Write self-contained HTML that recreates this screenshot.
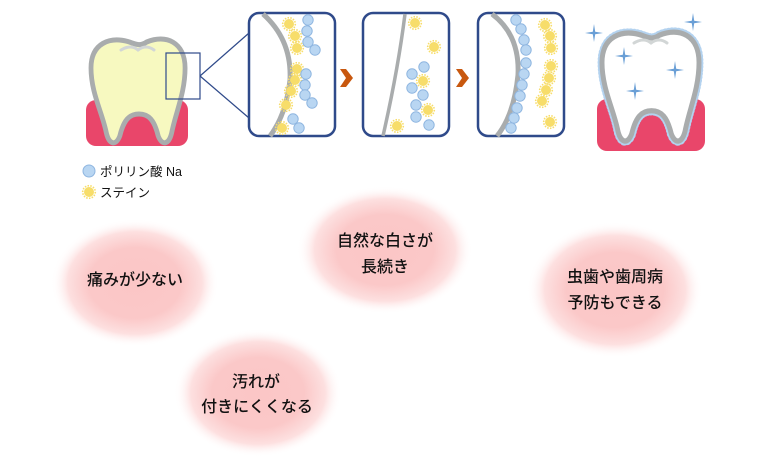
<!DOCTYPE html>
<html><head><meta charset="utf-8"><style>
html,body{margin:0;padding:0;background:#fff;}
svg{display:block}
text{font-family:"Liberation Sans","Noto Sans CJK JP",sans-serif;fill:#111;}
</style></head><body>
<svg width="782" height="469" viewBox="0 0 782 469" xmlns="http://www.w3.org/2000/svg">
<defs>
<radialGradient id="pk">
<stop offset="0" stop-color="#fbc6c6"/>
<stop offset="0.55" stop-color="#fbc8c8"/>
<stop offset="0.8" stop-color="#fde0e0"/>
<stop offset="1" stop-color="#fff" stop-opacity="0"/>
</radialGradient>
<g id="st"><circle r="5" fill="#f7dd6a"/><circle r="6.3" fill="none" stroke="#f7dd6a" stroke-width="1.6" stroke-dasharray="1.5 1.3"/></g>
<g id="bl"><circle r="5.2" fill="#b9d6f2" stroke="#8fb6e0" stroke-width="1"/></g>
<g id="sp"><path d="M0,-9 L1.2,-1.2 L9,0 L1.2,1.2 L0,9 L-1.2,1.2 L-9,0 L-1.2,-1.2 Z" fill="#6a9fd6"/></g>
<path id="tooth" d="M0,30 C0,5 20,-2 40,4 C48,7 52,8 58,4 C78,-4 98,4 98,30 C98,55 88,75 84,95 C81,107 74,108 70,98 C66,82 60,76 50,76 C40,76 34,82 30,98 C26,108 19,107 16,95 C12,75 0,55 0,30 Z"/>
</defs>

<!-- tooth 1 -->
<rect x="86" y="100" width="102" height="46" rx="10" fill="#e9466a"/>
<use href="#tooth" transform="translate(91,38) scale(0.96,1)" fill="#f7f9c0" stroke="#a9acad" stroke-width="5"/>
<path d="M121,50 Q131,44 138,50 Q146,44 154,50" fill="none" stroke="#d2d6d6" stroke-width="3" stroke-linecap="round"/>
<rect x="166" y="53" width="34" height="46" fill="none" stroke="#2f4a8a" stroke-width="1.2"/>
<line x1="200" y1="76" x2="249" y2="33" stroke="#2f4a8a" stroke-width="1.2"/>
<line x1="200" y1="76" x2="249" y2="118" stroke="#2f4a8a" stroke-width="1.2"/>

<!-- panel 1 -->
<rect x="249" y="13" width="86" height="123" rx="10" fill="#fff" stroke="#2f4a8a" stroke-width="2.5"/>
<path d="M263,14 Q292,40 290,80 Q286,115 270,136" fill="none" stroke="#a9acad" stroke-width="5"/>
<use href="#st" x="289" y="24"/><use href="#st" x="295" y="36"/><use href="#st" x="297" y="48"/>
<use href="#st" x="297" y="69"/><use href="#st" x="295" y="80"/><use href="#st" x="291" y="91"/><use href="#st" x="286" y="105"/><use href="#st" x="282" y="128"/>
<use href="#bl" x="308" y="20"/><use href="#bl" x="307" y="31"/><use href="#bl" x="308" y="42"/><use href="#bl" x="315" y="50"/>
<use href="#bl" x="306" y="74"/><use href="#bl" x="305" y="85"/><use href="#bl" x="305" y="95"/><use href="#bl" x="312" y="103"/>
<use href="#bl" x="293" y="119"/><use href="#bl" x="299" y="128"/>
<path d="M340,69 L346,69 L353,78 L346,87 L340,87 L346,78 Z" fill="#c8580f"/>
<!-- panel 2 -->
<rect x="363" y="13" width="86" height="123" rx="10" fill="#fff" stroke="#2f4a8a" stroke-width="2.5"/>
<path d="M405,14 Q398,70 383,136" fill="none" stroke="#a9acad" stroke-width="3.5"/>
<use href="#st" x="415" y="23"/><use href="#st" x="434" y="47"/>
<use href="#bl" x="424" y="67"/><use href="#bl" x="412" y="74"/><use href="#bl" x="412" y="88"/><use href="#bl" x="423" y="95"/>
<use href="#bl" x="416" y="105"/><use href="#bl" x="416" y="117"/><use href="#bl" x="429" y="125"/>
<use href="#st" x="423" y="81"/><use href="#st" x="428" y="110"/><use href="#st" x="397" y="126"/>
<path d="M456,69 L462,69 L469,78 L462,87 L456,87 L462,78 Z" fill="#c8580f"/>
<!-- panel 3 -->
<rect x="478" y="13" width="86" height="123" rx="10" fill="#fff" stroke="#2f4a8a" stroke-width="2.5"/>
<path d="M492,14 Q520,35 518,75 Q514,115 497,136" fill="none" stroke="#a9acad" stroke-width="5"/>
<use href="#bl" x="516" y="20"/><use href="#bl" x="521" y="29"/><use href="#bl" x="524" y="40"/><use href="#bl" x="526" y="50"/>
<use href="#bl" x="526" y="63"/><use href="#bl" x="524" y="74"/><use href="#bl" x="522" y="85"/><use href="#bl" x="520" y="96"/>
<use href="#bl" x="517" y="108"/><use href="#bl" x="514" y="118"/><use href="#bl" x="511" y="128"/>
<use href="#st" x="545" y="25"/><use href="#st" x="550" y="36"/><use href="#st" x="551" y="48"/>
<use href="#st" x="551" y="66"/><use href="#st" x="549" y="78"/><use href="#st" x="546" y="90"/><use href="#st" x="542" y="101"/><use href="#st" x="550" y="122"/>

<!-- tooth 2 -->
<rect x="597" y="99" width="108" height="52" rx="10" fill="#e9466a"/>
<use href="#tooth" transform="translate(602,31) scale(0.99,1.05)" fill="#fff" stroke="#b3d2ef" stroke-width="9" stroke-dasharray="0.1 3.2" stroke-linecap="round"/>
<use href="#tooth" transform="translate(602,31) scale(0.99,1.05)" fill="#fff" stroke="#a9acad" stroke-width="5"/>
<path d="M634,43 Q644,37 651,43 Q659,37 667,43" fill="none" stroke="#d2d6d6" stroke-width="3" stroke-linecap="round"/>
<use href="#sp" x="594" y="33"/><use href="#sp" x="693" y="22"/>
<use href="#sp" x="624" y="56"/><use href="#sp" x="675" y="70"/><use href="#sp" x="635" y="91"/>

<!-- legend -->
<circle cx="89" cy="171" r="6" fill="#b9d6f2" stroke="#8fb6e0"/>
<text x="100" y="176" font-size="12.5">ポリリン酸 Na</text>
<use href="#st" x="89" y="192"/>
<text x="100" y="197" font-size="12.5">ステイン</text>

<!-- bubbles -->
<ellipse cx="135" cy="283" rx="84" ry="64" fill="url(#pk)"/>
<ellipse cx="385" cy="250" rx="88" ry="64" fill="url(#pk)"/>
<ellipse cx="615" cy="290" rx="88" ry="68" fill="url(#pk)"/>
<ellipse cx="258" cy="393" rx="84" ry="64" fill="url(#pk)"/>
<g font-size="16" text-anchor="middle" font-weight="500">
<text x="135" y="285">痛みが少ない</text>
<text x="385" y="246">自然な白さが</text>
<text x="385" y="272">長続き</text>
<text x="615" y="282">虫歯や歯周病</text>
<text x="615" y="308">予防もできる</text>
<text x="256" y="387">汚れが</text>
<text x="257" y="412">付きにくくなる</text>
</g>
</svg>
</body></html>
